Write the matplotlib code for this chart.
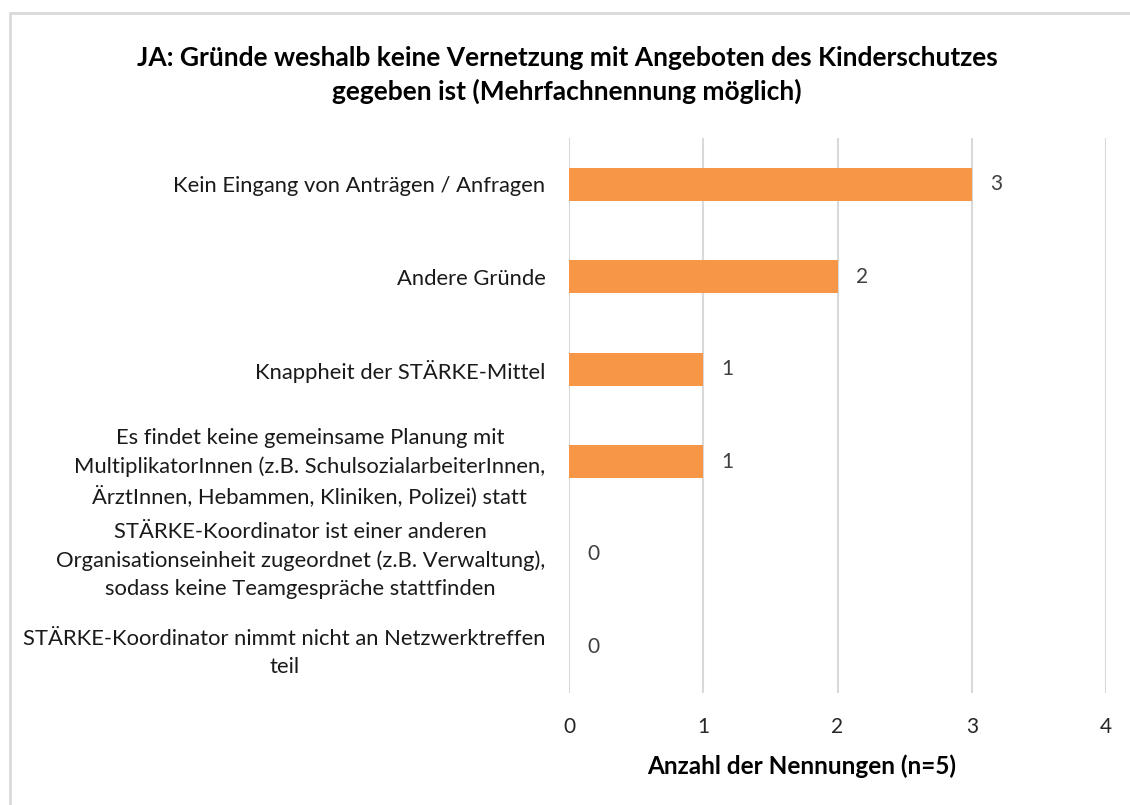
import matplotlib.pyplot as plt
import matplotlib.patches as mpatches

plt.rcParams['font.family'] = ['Lato', 'DejaVu Sans']

# categories from top to bottom
categories = [
    "Kein Eingang von Anträgen / Anfragen",
    "Andere Gründe",
    "Knappheit der STÄRKE-Mittel",
    "Es findet keine gemeinsame Planung mit\nMultiplikatorInnen (z.B. SchulsozialarbeiterInnen,\nÄrztInnen, Hebammen, Kliniken, Polizei) statt",
    "STÄRKE-Koordinator ist einer anderen\nOrganisationseinheit zugeordnet (z.B. Verwaltung),\nsodass keine Teamgespräche stattfinden",
    "STÄRKE-Koordinator nimmt nicht an Netzwerktreffen\nteil",
]
counts = [3, 2, 1, 1, 0, 0]
xticks = [0, 1, 2, 3, 4]

title = "JA: Gründe weshalb keine Vernetzung mit Angeboten des Kinderschutzes\ngegeben ist (Mehrfachnennung möglich)"
xlabel = "Anzahl der Nennungen (n=5)"

W, H = 1130, 805
fig = plt.figure(figsize=(W / 100, H / 100), dpi=100)

# light gray chart border (cropped on the right and bottom)
fig.patches.append(mpatches.Rectangle((10 / W, -0.1), 1.2, 1 - 13 / H + 0.1,
                                      transform=fig.transFigure, fill=False,
                                      edgecolor='#D9D9D9', linewidth=2))

ax = fig.add_axes([569 / W, 1 - 693 / H, (1106 - 569) / W, (693 - 138) / H])

y = list(range(len(categories)))
ax.barh(y, counts, height=0.36, color='#F79646', zorder=3)
ax.set_ylim(len(categories) - 0.5, -0.5)
ax.set_xlim(0, 4)
ax.set_xticks(xticks)
ax.set_xticklabels([str(t) for t in xticks], fontsize=15, color='#262626')
ax.set_yticks(y)
ax.set_yticklabels(categories, fontsize=15.8, color='#1a1a1a', ha='right',
                   multialignment='center', linespacing=1.5)
ax.tick_params(axis='y', length=0, pad=17)
ax.tick_params(axis='x', length=0, pad=17)
ax.grid(axis='x', color='#D9D9D9', linewidth=1.5, zorder=0)
for s in ax.spines.values():
    s.set_visible(False)

for yi, v in zip(y, counts):
    ax.annotate(str(v), (v, yi), xytext=(13, 0), textcoords='offset points',
                va='center', ha='left', fontsize=15, color='#404040')

fig.text(567 / W, 1 - 75 / H, title, ha='center', va='center', fontsize=19,
         fontweight='bold', color='black', linespacing=1.45)
fig.text(802 / W, 1 - 766 / H, xlabel, ha='center', va='center', fontsize=17.5,
         fontweight='bold', color='black')

fig.savefig('out.png', dpi=100, facecolor='white')
